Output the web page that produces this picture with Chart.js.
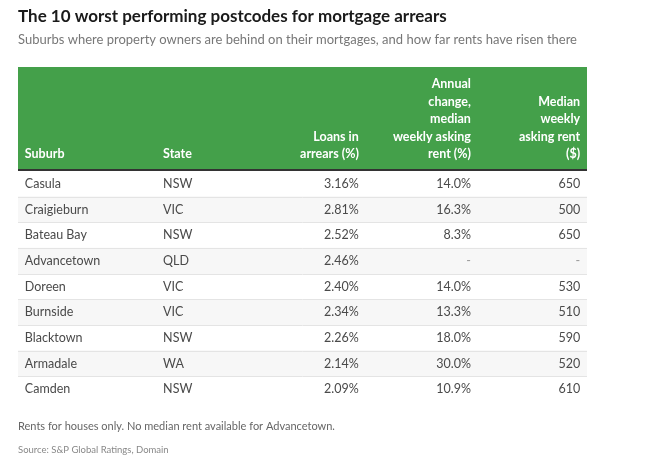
<!DOCTYPE html>
<html>
<head>
<meta charset="utf-8">
<script src="https://cdn.jsdelivr.net/npm/chart.js@4"></script>
<style>
  body { margin: 0; background: #fff; }
  #wrap { width: 650px; height: 463px; position: relative; }
</style>
</head>
<body>
<div id="wrap"><canvas id="table-chart"></canvas></div>
<script>
// table data
const suburbs = ["Casula", "Craigieburn", "Bateau Bay", "Advancetown", "Doreen", "Burnside", "Blacktown", "Armadale", "Camden"];
const states = ["NSW", "VIC", "NSW", "QLD", "VIC", "VIC", "NSW", "WA", "NSW"];
const arrears = [3.16, 2.81, 2.52, 2.46, 2.40, 2.34, 2.26, 2.14, 2.09];
const rentChange = [14.0, 16.3, 8.3, null, 14.0, 13.3, 18.0, 30.0, 10.9];
const medianRent = [650, 500, 650, null, 530, 510, 590, 520, 610];
const headers = [
  ["Suburb"],
  ["State"],
  ["Loans in", "arrears (%)"],
  ["Annual", "change,", "median", "weekly asking", "rent (%)"],
  ["Median", "weekly", "asking rent", "($)"]
];

const FONT = "Lato, 'Noto Sans', sans-serif";
const GREEN = "#44a04a";

// column anchors on the 0..1 x scale, with text alignment
const cols = [
  { at: 0.012, align: "left" },
  { at: 0.255, align: "left" },
  { at: 0.599, align: "right" },
  { at: 0.796, align: "right" },
  { at: 0.988, align: "right" }
];

function cellText(i, c) {
  if (c == 0) return suburbs[i];
  if (c == 1) return states[i];
  if (c == 2) return arrears[i].toFixed(2) + "%";
  if (c == 3) return rentChange[i] == null ? "-" : rentChange[i].toFixed(1) + "%";
  return medianRent[i] == null ? "-" : String(medianRent[i]);
}

const tablePlugin = {
  id: "tableText",
  beforeDatasetsDraw(chart) {
    const ctx = chart.ctx, area = chart.chartArea, x = chart.scales.x;
    ctx.save();
    // title + subtitle
    ctx.textBaseline = "middle";
    ctx.textAlign = "left";
    ctx.fillStyle = "#1a1a1a";
    ctx.font = "bold 17px " + FONT;
    ctx.fillText("The 10 worst performing postcodes for mortgage arrears", 18, 17);
    ctx.fillStyle = "#777";
    ctx.font = "13px " + FONT;
    ctx.fillText("Suburbs where property owners are behind on their mortgages, and how far rents have risen there", 18, 40);

    // header block
    ctx.fillStyle = GREEN;
    ctx.fillRect(area.left, 67, area.right - area.left, area.top - 67);
    ctx.fillStyle = "#333";
    ctx.fillRect(area.left, area.top - 2, area.right - area.left, 2);
    ctx.fillStyle = "#fff";
    ctx.font = "bold 12.5px " + FONT;
    headers.forEach((lines, c) => {
      ctx.textAlign = cols[c].align;
      const px = x.getPixelForValue(cols[c].at);
      lines.forEach((ln, k) => {
        ctx.fillText(ln, px, 154 - (lines.length - 1 - k) * 17.4);
      });
    });

    // footnotes
    ctx.textAlign = "left";
    ctx.fillStyle = "#666";
    ctx.font = "11px " + FONT;
    ctx.fillText("Rents for houses only. No median rent available for Advancetown.", 18, 426);
    ctx.fillStyle = "#888";
    ctx.font = "9.5px " + FONT;
    ctx.fillText("Source: S&P Global Ratings, Domain", 18, 450);
    ctx.restore();
  },
  afterDatasetsDraw(chart) {
    const ctx = chart.ctx, area = chart.chartArea, x = chart.scales.x, y = chart.scales.y;
    const half = (y.getPixelForValue(1) - y.getPixelForValue(0)) / 2;
    ctx.save();
    // row separators
    ctx.strokeStyle = "#e4e4e4";
    ctx.lineWidth = 1;
    for (let i = 0; i < suburbs.length - 1; i++) {
      const yy = Math.round(y.getPixelForValue(i) + half) + 0.5;
      ctx.beginPath();
      ctx.moveTo(area.left, yy);
      ctx.lineTo(area.right, yy);
      ctx.stroke();
    }
    ctx.font = "12.5px " + FONT;
    ctx.textBaseline = "middle";
    suburbs.forEach((s, i) => {
      const yy = y.getPixelForValue(i);
      cols.forEach((col, c) => {
        const t = cellText(i, c);
        ctx.textAlign = col.align;
        if (t == "-") ctx.fillStyle = "#999"; else ctx.fillStyle = "#4a4a4a";
        ctx.fillText(t, x.getPixelForValue(col.at), yy);
      });
    });
    ctx.restore();
  }
};

new Chart(document.getElementById("table-chart"), {
  type: "bar",
  data: {
    labels: suburbs,
    datasets: [{
      // light stripe behind every second row
      data: suburbs.map((s, i) => (i % 2 ? [0, 1] : null)),
      backgroundColor: "#f7f7f7",
      barPercentage: 1,
      categoryPercentage: 1
    }]
  },
  options: {
    indexAxis: "y",
    responsive: true,
    maintainAspectRatio: false,
    animation: false,
    layout: { padding: { left: 18, right: 63, top: 171, bottom: 61 } },
    plugins: { legend: { display: false }, tooltip: { enabled: false } },
    scales: {
      x: { type: "linear", min: 0, max: 1, display: false },
      y: { display: false, offset: true }
    }
  },
  plugins: [tablePlugin]
});
</script>
</body>
</html>
